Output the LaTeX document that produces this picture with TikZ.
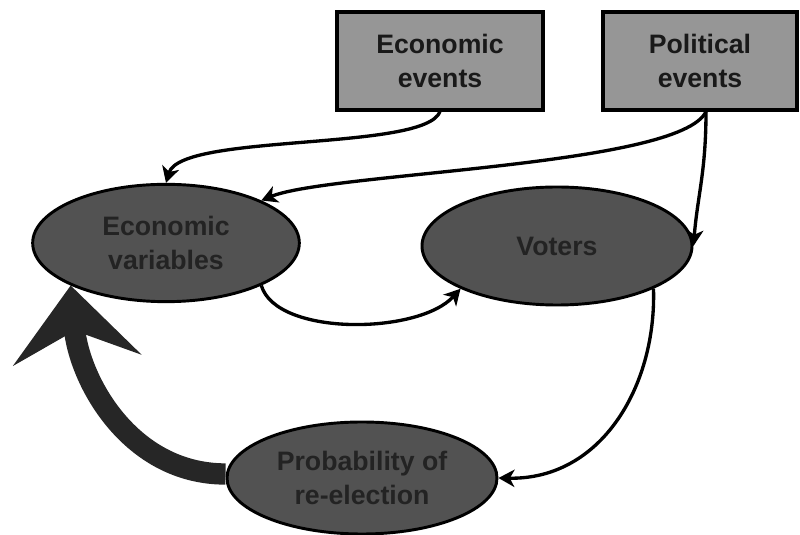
\documentclass[tikz,border=0pt]{standalone}
\usepackage{fontspec}
\setmainfont{Liberation Sans}
\usepackage{tikz}
\usetikzlibrary{shapes.geometric,arrows.meta,backgrounds}

\definecolor{boxgray}{RGB}{150,150,150}
\definecolor{ovalgray}{RGB}{82,82,82}
\definecolor{inkdark}{RGB}{25,25,25}
\definecolor{ovalink}{RGB}{35,35,35}

\begin{document}
\begin{tikzpicture}[x=0.75pt,y=0.75pt,
  eventbox/.style={draw, line width=2.4pt, fill=boxgray, text=inkdark, minimum height=73.5pt, inner sep=0pt, align=center, font=\fontsize{20}{26}\selectfont\bfseries},
  oval/.style={ellipse, draw, line width=2.2pt, fill=ovalgray, text=ovalink, inner sep=0pt, align=center, font=\fontsize{20}{26}\selectfont\bfseries},
  link/.style={line width=2.5pt, -{Stealth[length=12pt,width=13pt,inset=3.5pt]}},
  bigarrow/.style={line width=16pt, draw=black!85, -{Stealth[length=56pt,width=96pt,inset=22pt]}}]
%set diagram frame: 800 x 535
\useasboundingbox (0,0) rectangle (800,535);

%Shape: Rectangle [events]
\node[eventbox, minimum width=154.5pt] (ecev) at (440,474) {Economic\\events};
\node[eventbox, minimum width=145.5pt] (poev) at (700,474) {Political\\events};

%Shape: Ellipse [variables, voters, re-election]
\node[oval, minimum width=200pt, minimum height=88pt] (ecvar) at (166,292) {Economic\\variables};
\node[oval, minimum width=202.5pt, minimum height=88.5pt] (voters) at (557,289) {Voters};
\node[oval, minimum width=202.5pt, minimum height=84pt] (prob) at (362,57) {Probability of\\re-election};

%Curve Lines
\coordinate (pofoot) at ([xshift=4.5pt]poev.south);
\draw[link] (ecev.south) .. controls +(-15,-40) and +(15,50) .. (ecvar.north);
\draw[link] (pofoot) .. controls +(-26,-55) and +(68,28) .. (ecvar.north east);
\draw[link] (pofoot) .. controls +(0,-60) and +(4,50) .. (voters.east);
\draw[link] (ecvar.south east) .. controls +(15,-51) and +(-42,-46) .. (voters.south west);
\draw[link] (voters.south east) .. controls +(3,-97) and +(103,-2) .. (prob.east);

%Big feedback arrow
\begin{pgfonlayer}{background}
\draw[bigarrow] ([yshift=3pt]prob.west) to[out=180,in=-85] (ecvar.south west);
\end{pgfonlayer}

\end{tikzpicture}
\end{document}
